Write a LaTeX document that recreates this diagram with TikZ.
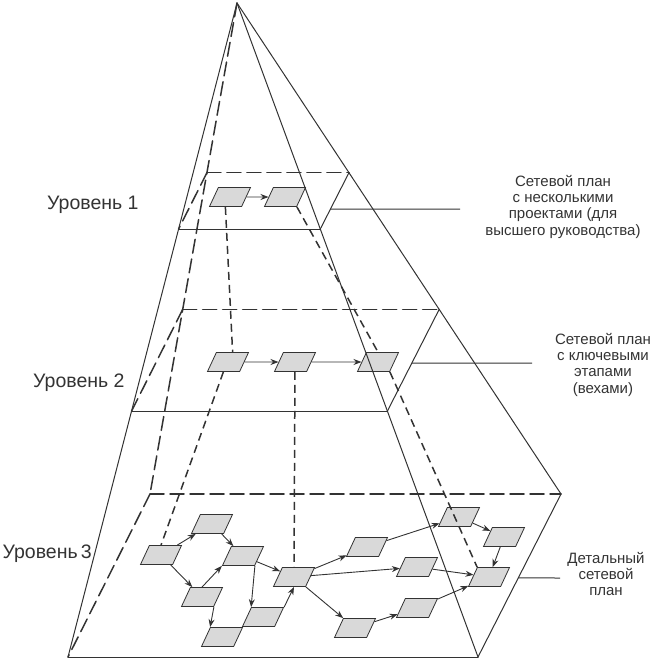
\documentclass[tikz,border=0pt]{standalone}
\usepackage{fontspec}
\setmainfont{Liberation Sans}
\usepackage{tkz-euclide}
\usetikzlibrary{shapes.geometric, arrows.meta, calc}
\definecolor{ink}{gray}{0.2}
\definecolor{cell}{gray}{0.85}
\newcommand{\taskbox}{\rule{0pt}{19pt}}
\tikzset{>={Stealth[length=8pt, width=6pt]},
    task/.style={trapezium, trapezium left angle=65, trapezium right angle=115,
        trapezium stretches body, minimum width=41pt,
        inner sep=0pt, draw=ink, fill=cell, line width=0.8pt},
    arr/.style={->, draw=ink, line width=0.9pt},
    solidedge/.style={draw=ink, line width=1pt},
    hiddenedge/.style={draw=ink, line width=1.5pt, dash pattern=on 14pt off 6pt},
    link/.style={draw=ink, line width=1.5pt, dash pattern=on 8pt off 5pt},
    lvl/.style={font=\fontsize{19.5}{22}\selectfont, text=ink, inner sep=0pt},
    note/.style={font=\fontsize{15}{16.3}\selectfont, text=ink, align=center, inner sep=0pt}}

\begin{document}
\begin{tikzpicture}[x=1pt, y=-1pt]
    \useasboundingbox (0,0) rectangle (663,663);
    \tkzDefPoints{237/3/A, 68/657/FL, 478/657/FR, 150/494/BL, 561/494/BR}
    \foreach \lv/\s in {1/0.3456, 2/0.624}{
        \coordinate (fl\lv) at ($(A)!\s!(FL)$);
        \coordinate (fr\lv) at ($(A)!\s!(FR)$);
        \coordinate (bl\lv) at ($(A)!\s!(BL)$);
        \coordinate (br\lv) at ($(A)!\s!(BR)$);
    }
    \coordinate (m1) at ($(fr1)!0.355!(br1)$);
    \coordinate (m2) at ($(fr2)!0.472!(br2)$);
    \coordinate (m3) at ($(FR)!0.485!(BR)$);
    \coordinate (e1) at (460,209);
    \coordinate (e2) at (532,363);
    \coordinate (e3) at (560,578);
    % level 1 and 2
    \node[task] (n11) at (230,197) {\taskbox};
    \node[task] (n12) at (285,197) {\taskbox};
    \node[task] (n21) at (228,362) {\taskbox};
    \node[task] (n22) at (295,362) {\taskbox};
    \node[task] (n23) at (378,362) {\taskbox};
    % level 3
    \foreach \nm/\x/\y in {a/161/555, b/212/524, c/243/556, d/202/597, e/222/637,
        f/263/617, g/294/577, h/367/547, s/417/567, u/355/628, t/417/608,
        p/459/517, q/504/537, r/489/577}
        \node[task] (\nm) at (\x,\y) {\taskbox};
    \tkzDrawSegments[solidedge](A,FL A,FR A,BR FL,FR FR,BR fl1,fr1 fr1,br1 fl2,fr2 fr2,br2)
    \tkzDrawSegments[hiddenedge](A,BL BL,FL BL,BR bl1,br1 bl1,fl1 bl2,br2 bl2,fl2)
    \draw[link] (n11.bottom side) -- (n21.top side);
    \draw[link] (n12.bottom right corner) -- (n23.north);
    \draw[link] (n21.bottom side) -- (a.north);
    \draw[link] (n22) -- (g);
    \draw[link] (n23.bottom right corner) -- (r.top left corner);
    \draw[arr] (n11) -- (n12);
    \draw[arr] (n21) -- (n22);
    \draw[arr] (n22) -- (n23);
    \foreach \u/\v in {a/b, a/d, b/c, c/g, g/h, g/s, g/u, h/p, p/q, q/r, s/r, u/t, t/r}
        \draw[arr] (\u) -- (\v);
    \draw[arr] (d.north) -- (c.bottom left corner);
    \draw[arr] (d.bottom right corner) -- (e.top left corner);
    \draw[arr] (c.bottom right corner) -- (f.top left corner);
    \draw[arr] (f.top right corner) -- (g.south);
    \foreach \i in {1,2,3}
        \draw[solidedge] (m\i) -- (e\i);
    % labels
    \node[lvl, anchor=base west] (lv1) at (47,209) {Уровень 1};
    \node[lvl, anchor=base west] (lv2) at (33,387) {Уровень 2};
    \node[lvl, anchor=base east] (lv3) at (92,558) {Уровень\,3};
    \node[note, anchor=north] (txt1) at (563,175) {Сетевой план\\с несколькими\\проектами (для\\высшего руководства)};
    \node[note, anchor=north] (txt2) at (603,333) {Сетевой план\\с ключевыми\\этапами\\(вехами)};
    \node[note, anchor=north] (txt3) at (606,552) {Детальный\\сетевой\\план};
\end{tikzpicture}
\end{document}
